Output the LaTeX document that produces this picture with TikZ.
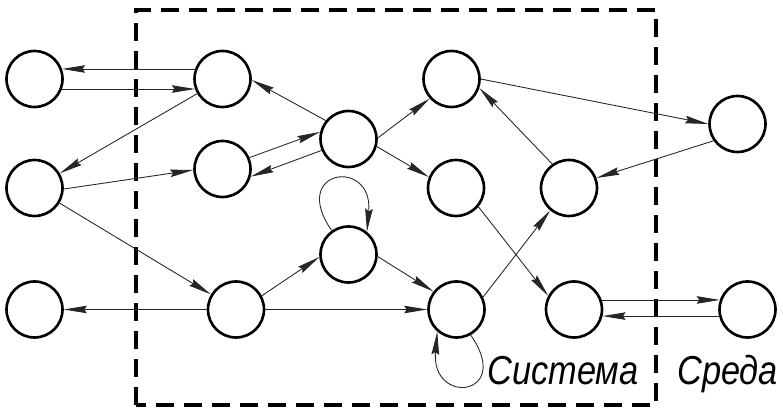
\documentclass[tikz,border=0pt]{standalone}
\usepackage{fontspec}
\setmainfont{Liberation Sans}
\newfontfamily\lblfont[FakeStretch=0.85]{Liberation Sans}
\usetikzlibrary{arrows.meta}
\begin{document}
\begin{tikzpicture}[x=0.02cm,y=0.02cm,
    st/.style={circle,draw,line width=1.5pt,minimum size=1.12cm,inner sep=0pt},
    edge/.style={-{Stealth[length=4.6mm,width=1.5mm,inset=0.5mm]},line width=0.5pt,draw=black!85},
    lbl/.style={anchor=base west,inner sep=0pt,font=\lblfont\fontsize{23}{27}\selectfont\itshape}]
  \useasboundingbox (0,0) rectangle (783,408);
  \draw[line width=1.9pt,dash pattern=on 0.36cm off 0.2cm] (136,3) rectangle (656,398);

  \node[st] (a1) at (34.5,329) {};
  \node[st] (a2) at (34.5,220) {};
  \node[st] (a3) at (34.5,98.5) {};
  \node[st] (b1) at (222.5,329) {};
  \node[st] (b2) at (222.5,239) {};
  \node[st] (b3) at (236,98.5) {};
  \node[st] (c1) at (348.5,269) {};
  \node[st] (c2) at (348.5,153.5) {};
  \node[st] (d1) at (451.5,329) {};
  \node[st] (d2) at (456,220) {};
  \node[st] (d3) at (456.5,98.5) {};
  \node[st] (e1) at (569,220) {};
  \node[st] (e2) at (574,98.5) {};
  \node[st] (f1) at (737.5,284) {};
  \node[st] (f2) at (747.5,98.5) {};

  \node[lbl] (sys) at (487,23) {Система};
  \node[lbl] (env) at (677,23) {Среда};

  \draw[edge] (b1.160) -- (a1.20);
  \draw[edge] (a1.-20) -- (b1.200);
  \draw[edge] (b1) -- (a2);
  \draw[edge] (a2.-2) -- (b2.182);
  \draw[edge] (a2) -- (b3);
  \draw[edge] (b3) -- (a3);
  \draw[edge] (c1.141) -- (b1.-2);
  \draw[edge] (b2.23) -- (c1.166);
  \draw[edge] (c1.203) -- (b2.-15);
  \draw[edge] (c1.2) -- (d1.222);
  \draw[edge] (c1.-15) -- (d2.158);
  \draw[edge] (d1.0) -- (f1.180);
  \draw[edge] (f1.215) -- (e1.20);
  \draw[edge] (e1.125) -- (d1.-18);
  \draw[edge] (d2.-40) -- (e2.152);
  \draw[edge] (d3.25) -- (e1.230);
  \draw[edge] (e2.19) -- (f2.161);
  \draw[edge] (f2.193) -- (e2.-13);
  \draw[edge] (b3.28) -- (c2.185);
  \draw[edge] (b3) -- (d3);
  \draw[edge] (c2.-4) -- (d3.142);
  \draw[edge] (c2.125) .. controls +(125:75) and +(85:75) .. (c2.51);
  \draw[edge] (d3.-61) .. controls +(-55:75) and +(-95:75) .. (d3.-131);
\end{tikzpicture}
\end{document}
